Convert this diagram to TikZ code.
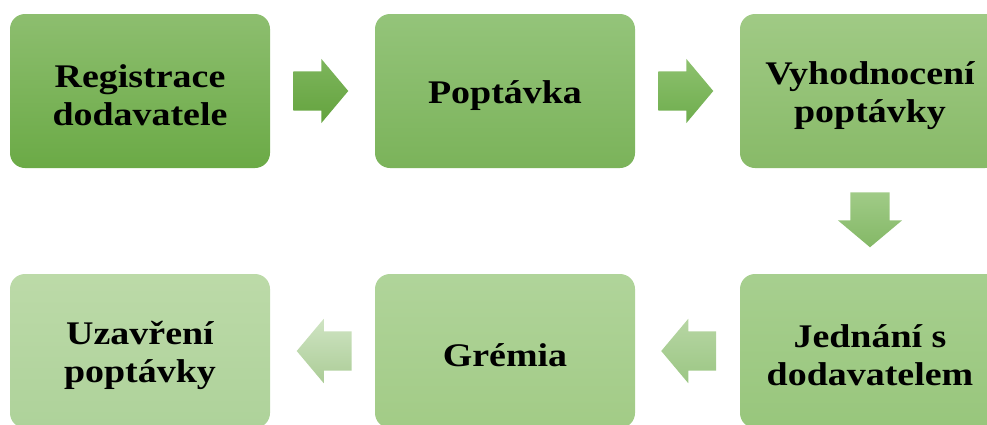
\documentclass[tikz,border=0pt]{standalone}
\usepackage{fontspec}
\setmainfont{Liberation Serif}[FakeStretch=1.15]
\usetikzlibrary{shapes.arrows,calc}

% step box fills (top / bottom of each gradient)
\definecolor{boxAt}{HTML}{8DBE6F}\definecolor{boxAb}{HTML}{6BAA46}
\definecolor{boxBt}{HTML}{94C47A}\definecolor{boxBb}{HTML}{7BB35A}
\definecolor{boxCt}{HTML}{A0CA85}\definecolor{boxCb}{HTML}{88BA68}
\definecolor{boxDt}{HTML}{A7CF8F}\definecolor{boxDb}{HTML}{98C67C}
\definecolor{boxEt}{HTML}{B0D49A}\definecolor{boxEb}{HTML}{A2CB86}
\definecolor{boxFt}{HTML}{BCDAA8}\definecolor{boxFb}{HTML}{AED29A}
% block arrow fills
\definecolor{arrAt}{HTML}{7DB55C}\definecolor{arrAb}{HTML}{64A33E}
\definecolor{arrBt}{HTML}{8EC16F}\definecolor{arrBb}{HTML}{6EAD4D}
\definecolor{arrCt}{HTML}{A0CB87}\definecolor{arrCb}{HTML}{84B866}
\definecolor{arrDt}{HTML}{B7D6A4}\definecolor{arrDb}{HTML}{9BC683}
\definecolor{arrEt}{HTML}{CFE4C3}\definecolor{arrEb}{HTML}{ABCC96}

% tall invisible strut: sets each label a little lower in its box
\newcommand\topstrut{\rule{0pt}{32pt}}

\tikzset{
  stepbox/.style={rectangle, rounded corners=15pt, minimum width=260pt,
    minimum height=154pt, inner sep=0pt, align=center,
    font=\fontsize{33}{38}\selectfont\bfseries, text=black},
  blockarrow/.style={single arrow, minimum height=55pt, inner xsep=0pt,
    inner ysep=19.5pt, single arrow head extend=12.5pt,
    single arrow tip angle=100},
  blockarrowdown/.style={blockarrow, shape border rotate=270,
    inner xsep=19.5pt, inner ysep=0pt},
}

\begin{document}
\begin{tikzpicture}[x=1pt,y=-1pt]
  \useasboundingbox (0,0) rectangle (987,424);
  \clip (0,0) rectangle (987,424);

  % process steps
  \node[stepbox, top color=boxAt, bottom color=boxAb] (reg) at (140,91) {\topstrut Registrace\\dodavatele};
  \node[stepbox, top color=boxBt, bottom color=boxBb] (pop) at (505,91) {\topstrut Poptávka};
  \node[stepbox, top color=boxCt, bottom color=boxCb] (vyh) at (870,91) {\topstrut Vyhodnocení\\poptávky};
  \node[stepbox, top color=boxDt, bottom color=boxDb] (jed) at (870,351) {\topstrut Jednání s\\dodavatelem};
  \node[stepbox, top color=boxEt, bottom color=boxEb] (gre) at (505,351) {\topstrut Grémia};
  \node[stepbox, top color=boxFt, bottom color=boxFb] (uza) at (140,351) {\topstrut Uzavření\\poptávky};

  % block arrows between consecutive steps
  \node[blockarrow, top color=arrAt, bottom color=arrAb] (a1)
    at ($(reg.east)!0.5!(pop.west)+(-10,0)$) {};
  \node[blockarrow, top color=arrBt, bottom color=arrBb] (a2)
    at ($(pop.east)!0.5!(vyh.west)+(-10,0)$) {};
  \node[blockarrowdown, top color=arrCt, bottom color=arrCb] (a3)
    at ($(vyh.south)!0.5!(jed.north)+(0,-9.5)$) {};
  \node[blockarrow, shape border rotate=180, top color=arrDt, bottom color=arrDb] (a4)
    at ($(jed.west)!0.5!(gre.east)+(9.5,0)$) {};
  \node[blockarrow, shape border rotate=180, top color=arrEt, bottom color=arrEb] (a5)
    at ($(gre.west)!0.5!(uza.east)+(10,0)$) {};
\end{tikzpicture}
\end{document}
